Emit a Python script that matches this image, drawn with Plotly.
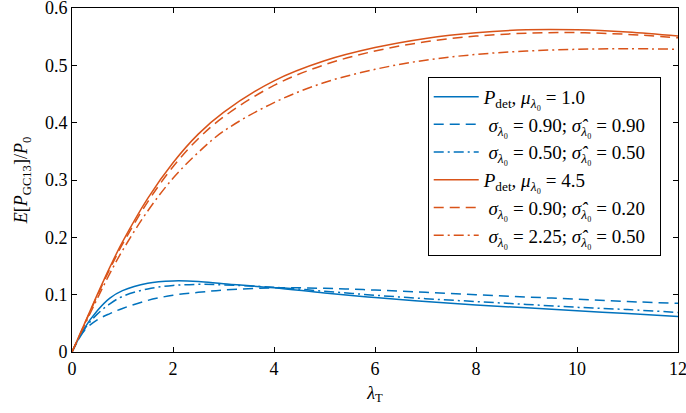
import plotly.graph_objects as go

lam_t = [0, 0.25, 0.5, 0.75, 1, 1.5, 2, 2.5, 3, 4, 5, 6, 7, 8, 9, 10, 11, 12]

# mu = 1.0 (blue)
blue_det = [0, 0.042, 0.072, 0.094, 0.107, 0.12, 0.124, 0.123, 0.119, 0.112, 0.103, 0.095, 0.088, 0.082, 0.077, 0.072, 0.067, 0.062]
blue_s090 = [0, 0.038, 0.056, 0.067, 0.076, 0.09, 0.099, 0.104, 0.108, 0.112, 0.111, 0.108, 0.104, 0.1, 0.096, 0.092, 0.088, 0.085]
blue_s050 = [0, 0.04, 0.066, 0.084, 0.097, 0.11, 0.116, 0.118, 0.117, 0.113, 0.106, 0.099, 0.093, 0.088, 0.083, 0.078, 0.074, 0.069]

# mu = 4.5 (orange)
orange_det = [0, 0.05, 0.1, 0.148, 0.192, 0.268, 0.33, 0.38, 0.418, 0.473, 0.508, 0.531, 0.547, 0.557, 0.562, 0.562, 0.558, 0.551]
orange_s090 = [0, 0.049, 0.098, 0.145, 0.188, 0.262, 0.323, 0.372, 0.41, 0.465, 0.501, 0.525, 0.541, 0.551, 0.556, 0.557, 0.554, 0.548]
orange_s225 = [0, 0.047, 0.093, 0.137, 0.177, 0.246, 0.303, 0.348, 0.385, 0.435, 0.47, 0.493, 0.509, 0.519, 0.525, 0.528, 0.529, 0.528]

nb = "\u00a0"
sig = "<i>σ</i><sub><i>λ</i>₀</sub>"
sighat = "<i>σ̂</i><sub><i>λ</i>₀</sub>"
names = [
    "<i>P</i><sub>det</sub>, <i>μ</i><sub><i>λ</i>₀</sub> = 1.0",
    f"{nb}{sig} = 0.90; {sighat} = 0.90{nb}{nb}",
    f"{nb}{sig} = 0.50; {sighat} = 0.50{nb}{nb}",
    "<i>P</i><sub>det</sub>, <i>μ</i><sub><i>λ</i>₀</sub> = 4.5",
    f"{nb}{sig} = 0.90; {sighat} = 0.20{nb}{nb}",
    f"{nb}{sig} = 2.25; {sighat} = 0.50{nb}{nb}",
]
series = [blue_det, blue_s090, blue_s050, orange_det, orange_s090, orange_s225]
colors = ["#0072BD"] * 3 + ["#D95319"] * 3
dashes = ["solid", "10px,6px", "10px,4px,2px,4px"] * 2

fig = go.Figure()
for name, ys, c, d in zip(names, series, colors, dashes):
    fig.add_trace(go.Scatter(x=lam_t, y=ys, mode="lines", name=name,
                             line=dict(color=c, width=1.5, dash=d, shape="spline")))

serif = "'Liberation Serif', 'Times New Roman', serif"
axis_style = dict(showline=True, linecolor="black", linewidth=1, mirror="ticks",
                  ticks="inside", ticklen=5, tickcolor="black", showgrid=False,
                  zeroline=False, automargin=False, ticklabeloverflow="allow",
                  tickfont=dict(family=serif, size=18, color="black"))

fig.update_layout(
    width=686, height=413,
    template="plotly_white",
    font=dict(family=serif, size=18, color="black"),
    margin=dict(l=72, r=8, t=8, b=61),
    xaxis=dict(range=[0, 12], dtick=2,
               title=dict(text="<i>λ</i><sub>T</sub>", standoff=8, font=dict(family=serif, size=18)),
               **axis_style),
    yaxis=dict(range=[0, 0.6], dtick=0.1, tickformat=".1~f",
               title=dict(text="<i>E</i>[<i>P</i><sub>GC13</sub>]/<i>P</i><sub>0</sub>", standoff=12,
                          font=dict(family=serif, size=18)),
               **axis_style),
    legend=dict(x=0.587, y=0.8, xanchor="left", yanchor="top", bgcolor="white",
                bordercolor="black", borderwidth=1, itemwidth=45,
                font=dict(family=serif, size=19), tracegroupgap=0),
    showlegend=True,
)

# the page's default 8px body margin would shift the figure
fig.write_html("out.html", config={"displayModeBar": False},
               post_script="document.body.style.margin='0';")
